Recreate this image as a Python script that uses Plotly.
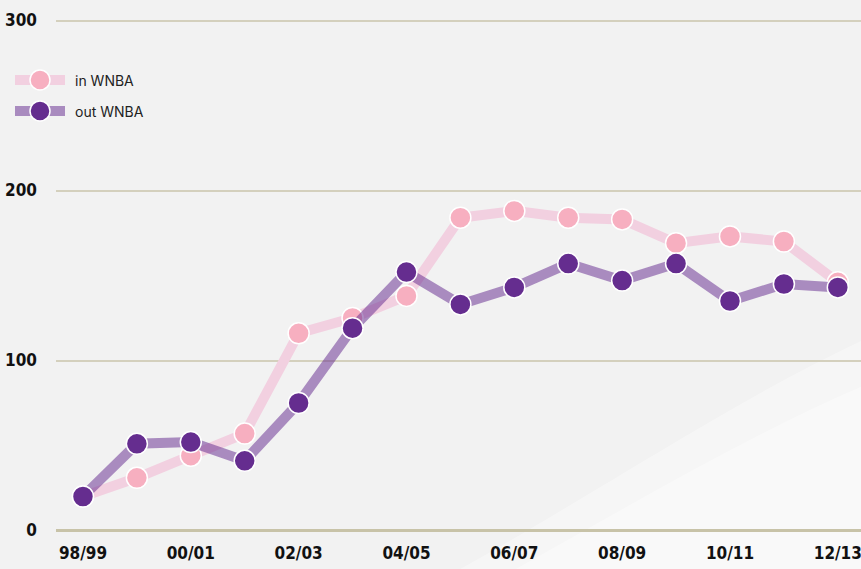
import plotly.graph_objects as go

seasons = ["98/99", "99/00", "00/01", "01/02", "02/03", "03/04", "04/05", "05/06",
           "06/07", "07/08", "08/09", "09/10", "10/11", "11/12", "12/13"]
in_wnba = [20, 31, 44, 57, 116, 125, 138, 184, 188, 184, 183, 169, 173, 170, 146]
out_wnba = [20, 51, 52, 41, 75, 119, 152, 133, 143, 157, 147, 157, 135, 145, 143]
tick_labels = ["98/99", "00/01", "02/03", "04/05", "06/07", "08/09", "10/11", "12/13"]
y_ticks = [0, 100, 200, 300]
series_names = ["in WNBA", "out WNBA"]
line_colors = ["#f2d0e0", "rgba(101,45,143,0.52)"]
marker_colors = ["#f7afc0", "#652d8f"]

fig = go.Figure()
for name, vals, lc, mc in zip(series_names, [in_wnba, out_wnba], line_colors, marker_colors):
    fig.add_trace(go.Scatter(
        x=seasons, y=vals, name=name, mode="lines+markers",
        line=dict(color=lc, width=10),
        marker=dict(color=mc, size=21, line=dict(color="white", width=1.5)),
        cliponaxis=False, showlegend=False,
    ))

tickfont = dict(family="DejaVu Sans Condensed, Roboto, sans-serif",
                size=17, color="#111111", weight="bold")

# plot area in page pixels: left 56, width 805, top 12, bottom 539
def px_x(p):
    return (p - 56) / 805

def px_y(p):
    return (539 - p) / 527

# soft white swoosh in the background
fig.add_shape(type="path", xref="paper", yref="paper", layer="below",
              path="M 0.45 -0.1 C 0.65 0.06, 0.85 0.28, 1.05 0.41 L 1.05 -0.1 Z",
              fillcolor="rgba(255,255,255,0.35)", line=dict(width=0))
fig.add_shape(type="path", xref="paper", yref="paper", layer="below",
              path="M 0.52 -0.1 C 0.7 0.05, 0.88 0.22, 1.05 0.32 L 1.05 -0.1 Z",
              fillcolor="rgba(255,255,255,0.35)", line=dict(width=0))

# manual legend
for i, (name, lc, mc) in enumerate(zip(series_names, line_colors, marker_colors)):
    yy = px_y(80 + 31 * i)
    fig.add_shape(type="line", xref="paper", yref="paper",
                  x0=px_x(15), x1=px_x(65), y0=yy, y1=yy,
                  line=dict(color=lc, width=10))
    fig.add_shape(type="circle", xref="paper", yref="paper",
                  xsizemode="pixel", ysizemode="pixel",
                  xanchor=px_x(40), yanchor=yy, x0=-10, x1=10, y0=-10, y1=10,
                  fillcolor=mc, line=dict(color="white", width=1.5))
    fig.add_annotation(xref="paper", yref="paper", x=px_x(73), y=yy,
                       xanchor="left", yanchor="middle", showarrow=False, text=name,
                       font=dict(family="Inter, Roboto, sans-serif", size=14, color="#222222"))

fig.update_layout(
    width=861, height=569,
    margin=dict(l=56, r=0, t=12, b=30),
    paper_bgcolor="#f2f2f2", plot_bgcolor="rgba(0,0,0,0)",
    showlegend=False,
    xaxis=dict(type="category", range=[-0.5, 14.43], tickmode="array",
               tickvals=tick_labels, ticktext=tick_labels, showgrid=False,
               zeroline=False, showline=False, ticks="", tickfont=tickfont,
               ticklabelstandoff=2),
    yaxis=dict(range=[-5, 305], tickmode="array", tickvals=y_ticks,
               showgrid=True, gridcolor="#d4d0bd", gridwidth=2,
               zeroline=True, zerolinecolor="#c8c3a8", zerolinewidth=2.5,
               showline=False, ticks="", tickfont=tickfont, ticklabelstandoff=18),
)

fig.write_html(
    "out.html",
    config={"displayModeBar": False},
    post_script="document.body.style.margin='0';document.body.style.overflow='hidden';"
                "document.body.style.background='#f2f2f2';",
)
